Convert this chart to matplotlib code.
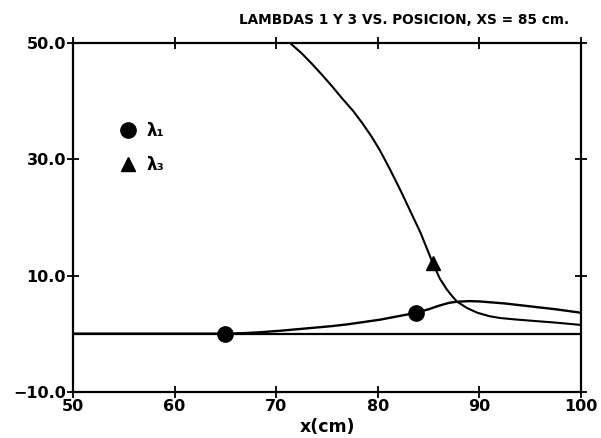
import matplotlib.pyplot as plt
from matplotlib.lines import Line2D

# lambda 1 curve
lam1_x = [50, 65, 67, 68.5, 70.4, 72, 73.6, 75.5, 77, 78.6, 80.2, 82, 83.8,
          85, 86, 87, 87.8, 89, 90, 92.5, 95, 97.5, 100]
lam1_y = [0, 0, 0.1, 0.25, 0.5, 0.75, 1.0, 1.3, 1.6, 2.0, 2.4, 3.0, 3.6,
          4.2, 4.8, 5.3, 5.5, 5.6, 5.55, 5.2, 4.7, 4.2, 3.6]
lam1_mark_x = [65, 83.8]
lam1_mark_y = [0, 3.6]

# lambda 3 curve
lam3_x = [71.4, 72.5, 73.5, 74.5, 75.5, 76.5, 77.6, 78.5, 79.4, 80.2, 81.2,
          82.2, 83.2, 84.2, 85.4, 86.1, 86.8, 87.3, 87.8, 88.8, 89.8, 91,
          92, 93.5, 95.3, 97.5, 100]
lam3_y = [50, 48.3, 46.5, 44.6, 42.6, 40.5, 38.3, 36.2, 33.9, 31.6, 28.3,
          24.8, 21.1, 17.4, 12.2, 9.5, 7.6, 6.5, 5.5, 4.4, 3.6, 3.0,
          2.7, 2.45, 2.2, 1.9, 1.5]
lam3_mark_x = [85.4]
lam3_mark_y = [12.2]

x_ticks = [50, 60, 70, 80, 90, 100]
y_ticks = [-10, 10, 30, 50]

plt.rcParams["font.family"] = "DejaVu Sans"
plt.rcParams["font.weight"] = "bold"

fig = plt.figure(figsize=(6.01, 4.38), dpi=100)
ax = fig.add_axes([0.1215, 0.1057, 0.8452, 0.7953])

ax.axhline(0, color="black", lw=1.6)
ax.plot(lam1_x, lam1_y, color="black", lw=1.7)
ax.plot(lam3_x, lam3_y, color="black", lw=1.5)
ax.plot(lam1_mark_x, lam1_mark_y, "o", color="black", ms=11)
ax.plot(lam3_mark_x, lam3_mark_y, "^", color="black", ms=10)

ax.set_xlim(50, 100)
ax.set_ylim(-10, 50)
ax.set_xticks(x_ticks)
ax.set_yticks(y_ticks)
ax.set_yticklabels([f"{v:.1f}".replace("-", "\u2212") for v in y_ticks])
ax.tick_params(axis="both", direction="inout", length=8, width=1.3,
               top=True, right=True, labelsize=11.5, pad=1)
for lab in ax.get_xticklabels() + ax.get_yticklabels():
    lab.set_fontweight("bold")
for sp in ax.spines.values():
    sp.set_linewidth(1.6)

handles = [
    Line2D([], [], ls="", marker="o", color="black", ms=11),
    Line2D([], [], ls="", marker="^", color="black", ms=10),
]
ax.legend(handles, ["λ₁", "λ₃"], loc="upper left", bbox_to_anchor=(0.045, 0.818),
          frameon=False, handletextpad=0.15, labelspacing=0.95,
          prop={"weight": "bold", "size": 12})

fig.text(0.672, 0.955, "LAMBDAS 1 Y 3 VS. POSICION, XS = 85 cm.",
         ha="center", va="center", fontsize=9.8, fontweight="bold")
fig.text(0.545, 0.025, "x(cm)", ha="center", va="center",
         fontsize=12.5, fontweight="bold")

fig.savefig("out.png", dpi=100)
plt.close()
